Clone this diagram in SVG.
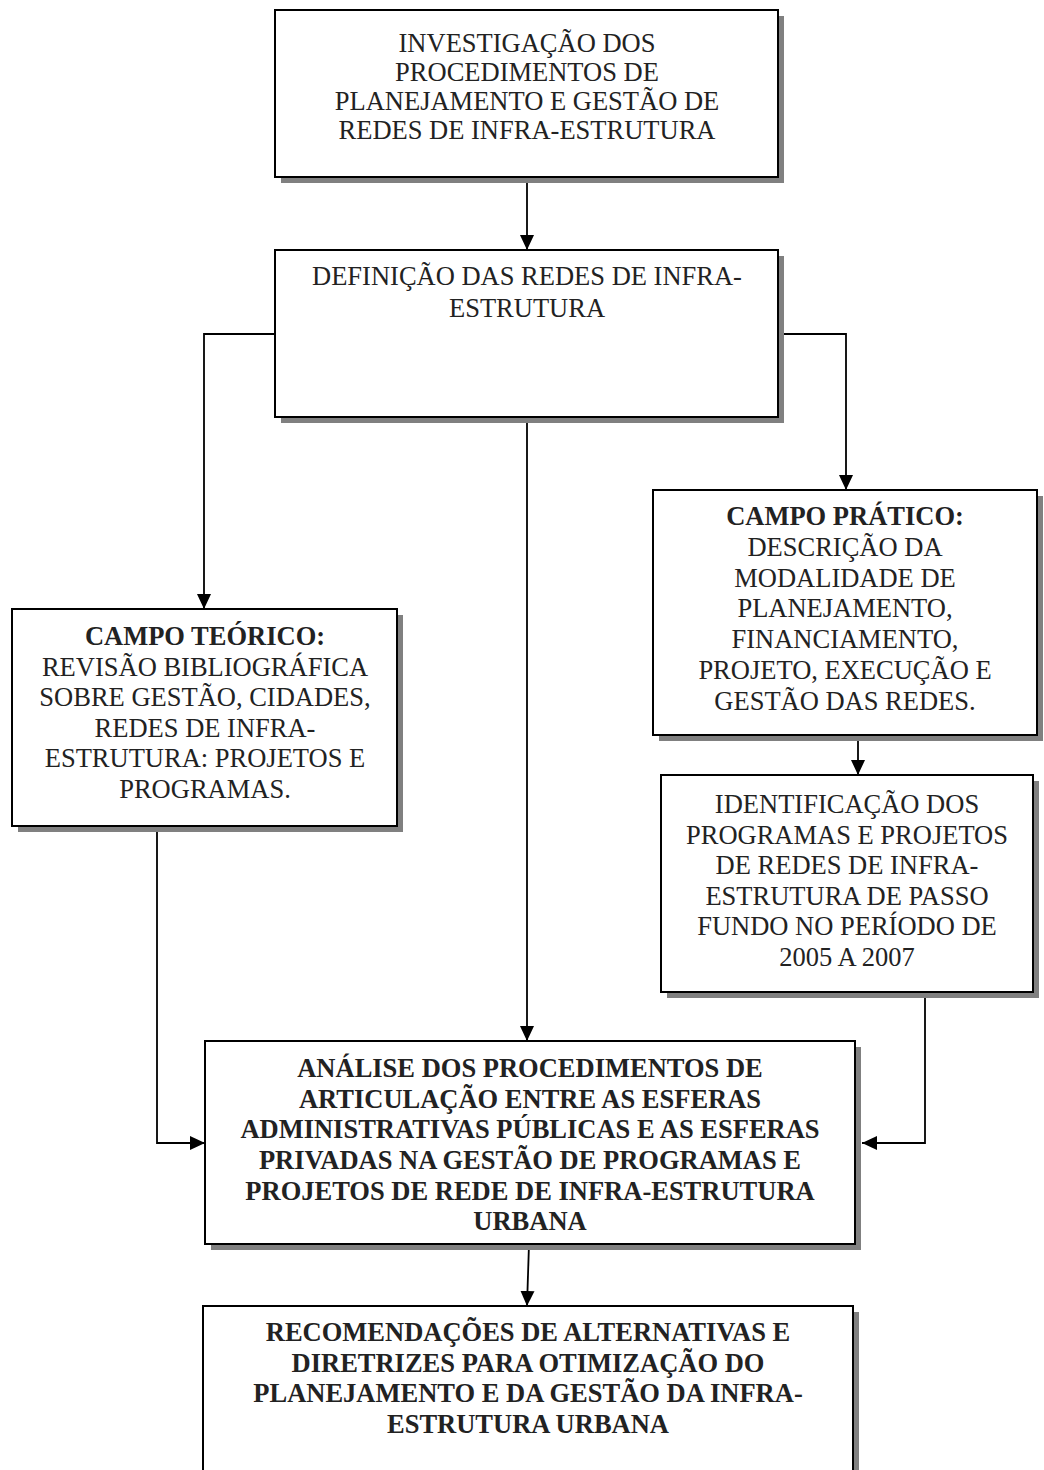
<svg xmlns="http://www.w3.org/2000/svg" width="1044" height="1470" viewBox="0 0 1044 1470">
  <defs>
    <marker id="arrow" markerUnits="userSpaceOnUse" markerWidth="16" markerHeight="16" viewBox="0 0 16 16" refX="15" refY="8" orient="auto">
      <path d="M0,1 L15,8 L0,15 Z" fill="#000"/>
    </marker>
    <style>
      .shadow { fill: #808080; stroke: none; }
      .box { fill: #fff; stroke: #000; stroke-width: 2; }
      .link { fill: none; stroke: #000; stroke-width: 1.8; marker-end: url(#arrow); }
      .t { font-family: "Liberation Serif", "Times New Roman", serif; font-size: 26.5px; fill: #222; text-anchor: middle; }
      .b { font-weight: bold; }
    </style>
  </defs>
  <rect width="1044" height="1470" fill="#fff"/>

  <!-- connectors -->
  <g id="connectors">
    <path class="link" d="M527,177 V250"/>
    <path class="link" d="M275,334 H204 V609"/>
    <path class="link" d="M778,334 H846 V490"/>
    <path class="link" d="M527,417 V1041"/>
    <path class="link" d="M858,735 V775"/>
    <path class="link" d="M157,826 V1143 H205"/>
    <path class="link" d="M925,992 V1143 H862"/>
    <path class="link" d="M529,1244 L527,1306"/>
  </g>

  <!-- investigation of procedures -->
  <g id="investigacao">
    <rect class="shadow" x="281" y="16" width="503" height="167"/>
    <rect class="box" x="275" y="10" width="503" height="167"/>
    <text class="t" x="527" y="52">INVESTIGAÇÃO DOS</text>
    <text class="t" x="527" y="81">PROCEDIMENTOS DE</text>
    <text class="t" x="527" y="110">PLANEJAMENTO E GESTÃO DE</text>
    <text class="t" x="527" y="139">REDES DE INFRA-ESTRUTURA</text>
  </g>

  <!-- definition of networks -->
  <g id="definicao">
    <rect class="shadow" x="281" y="256" width="503" height="167"/>
    <rect class="box" x="275" y="250" width="503" height="167"/>
    <text class="t" x="527" y="285">DEFINIÇÃO DAS REDES DE INFRA-</text>
    <text class="t" x="527" y="317">ESTRUTURA</text>
  </g>

  <!-- theoretical field -->
  <g id="campo-teorico">
    <rect class="shadow" x="18" y="615" width="385" height="217"/>
    <rect class="box" x="12" y="609" width="385" height="217"/>
    <text class="t b" x="205" y="645">CAMPO TEÓRICO:</text>
    <text class="t" x="205" y="676">REVISÃO BIBLIOGRÁFICA</text>
    <text class="t" x="205" y="706">SOBRE GESTÃO, CIDADES,</text>
    <text class="t" x="205" y="737">REDES DE INFRA-</text>
    <text class="t" x="205" y="767">ESTRUTURA: PROJETOS E</text>
    <text class="t" x="205" y="798">PROGRAMAS.</text>
  </g>

  <!-- practical field -->
  <g id="campo-pratico">
    <rect class="shadow" x="659" y="496" width="384" height="245"/>
    <rect class="box" x="653" y="490" width="384" height="245"/>
    <text class="t b" x="845" y="525">CAMPO PRÁTICO:</text>
    <text class="t" x="845" y="556">DESCRIÇÃO DA</text>
    <text class="t" x="845" y="587">MODALIDADE DE</text>
    <text class="t" x="845" y="617">PLANEJAMENTO,</text>
    <text class="t" x="845" y="648">FINANCIAMENTO,</text>
    <text class="t" x="845" y="679">PROJETO, EXECUÇÃO E</text>
    <text class="t" x="845" y="710">GESTÃO DAS REDES.</text>
  </g>

  <!-- identification of programmes -->
  <g id="identificacao">
    <rect class="shadow" x="667" y="781" width="372" height="217"/>
    <rect class="box" x="661" y="775" width="372" height="217"/>
    <text class="t" x="847" y="813">IDENTIFICAÇÃO DOS</text>
    <text class="t" x="847" y="844">PROGRAMAS E PROJETOS</text>
    <text class="t" x="847" y="874">DE REDES DE INFRA-</text>
    <text class="t" x="847" y="905">ESTRUTURA DE PASSO</text>
    <text class="t" x="847" y="935">FUNDO NO PERÍODO DE</text>
    <text class="t" x="847" y="966">2005 A 2007</text>
  </g>

  <!-- analysis of articulation -->
  <g id="analise">
    <rect class="shadow" x="211" y="1047" width="650" height="203"/>
    <rect class="box" x="205" y="1041" width="650" height="203"/>
    <text class="t b" x="530" y="1077">ANÁLISE DOS PROCEDIMENTOS DE</text>
    <text class="t b" x="530" y="1108">ARTICULAÇÃO ENTRE AS ESFERAS</text>
    <text class="t b" x="530" y="1138">ADMINISTRATIVAS PÚBLICAS E AS ESFERAS</text>
    <text class="t b" x="530" y="1169">PRIVADAS NA GESTÃO DE PROGRAMAS E</text>
    <text class="t b" x="530" y="1200">PROJETOS DE REDE DE INFRA-ESTRUTURA</text>
    <text class="t b" x="530" y="1230">URBANA</text>
  </g>

  <!-- recommendations -->
  <g id="recomendacoes">
    <rect class="shadow" x="209" y="1312" width="650" height="300"/>
    <rect class="box" x="203" y="1306" width="650" height="300"/>
    <text class="t b" x="528" y="1341">RECOMENDAÇÕES DE ALTERNATIVAS E</text>
    <text class="t b" x="528" y="1372">DIRETRIZES PARA OTIMIZAÇÃO DO</text>
    <text class="t b" x="528" y="1402">PLANEJAMENTO E DA GESTÃO DA INFRA-</text>
    <text class="t b" x="528" y="1433">ESTRUTURA URBANA</text>
  </g>
</svg>
